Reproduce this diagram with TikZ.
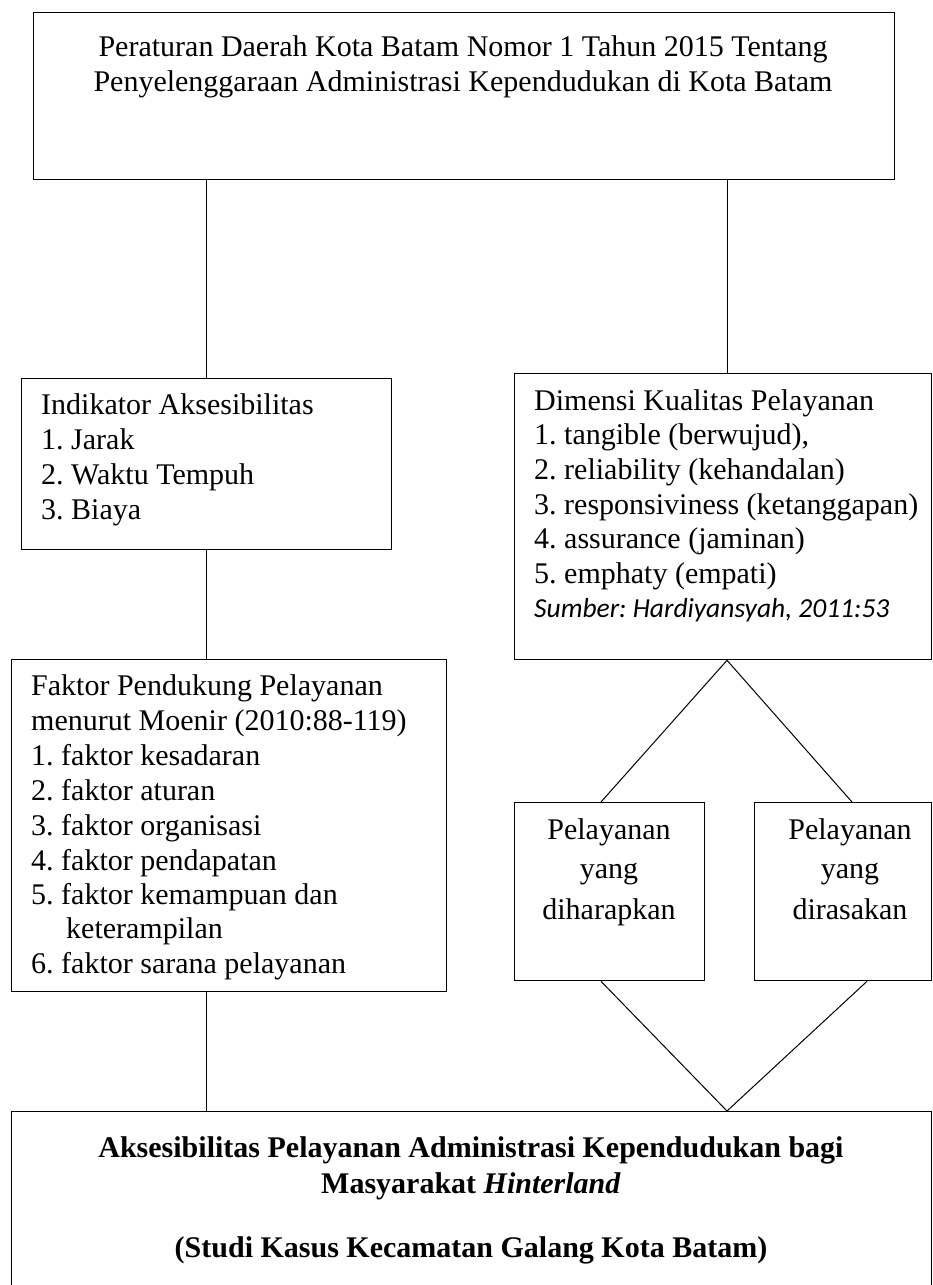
\documentclass[tikz,border=0pt]{standalone}
\usepackage{fontspec}
\setmainfont{Liberation Serif}
\newfontfamily\calibri{Carlito}
\frenchspacing
\begin{document}
\frenchspacing
\begin{tikzpicture}[x=1pt,y=-1pt,
  box/.style={draw, line width=1.3pt, inner sep=0pt, anchor=north west},
  ln/.style={line width=1pt},
  txt/.style={inner sep=0pt, anchor=base west, font=\fontsize{30}{35}\selectfont},
  ctxt/.style={inner sep=0pt, anchor=base, font=\fontsize{30}{35}\selectfont}]
\useasboundingbox (0,0) rectangle (933,1285);
\clip (0,0) rectangle (933,1285);
% boxes
\node[box, minimum width=861pt, minimum height=167pt] (top) at (33,12) {};
\node[box, minimum width=370pt, minimum height=171pt] (ind) at (21,378) {};
\node[box, minimum width=417pt, minimum height=286pt] (dim) at (514,373) {};
\node[box, minimum width=435pt, minimum height=332pt] (fak) at (11,659) {};
\node[box, minimum width=190pt, minimum height=178pt] (p1) at (514,802) {};
\node[box, minimum width=177pt, minimum height=178pt] (p2) at (754,802) {};
\node[box, minimum width=920pt, minimum height=210pt] (bot) at (11,1111) {};
% helper coordinates
\coordinate (rx) at (727,0);
\coordinate (a1) at (601,0);
\coordinate (a2) at (852,0);
\coordinate (b2) at (867,0);
% connectors
\draw[ln] (top.south -| ind.north) -- (ind.north);
\draw[ln] (top.south -| rx) -- (dim.north -| rx);
\draw[ln] (ind.south) -- (fak.north -| ind.south);
\draw[ln] (fak.south -| ind.south) -- (bot.north -| ind.south);
\draw[ln] (p1.north -| a1) -- (dim.south -| rx) -- (p2.north -| a2);
\draw[ln] (p1.south -| a1) -- (bot.north -| rx) -- (p2.south -| b2);
% top text
\node[ctxt] (t1) at (463,56) {Peraturan Daerah Kota Batam Nomor 1 Tahun 2015 Tentang};
\node[ctxt] (t2) at (463,91) {Penyelenggaraan Administrasi Kependudukan di Kota Batam};
% indikator
\node[txt] (i1) at (41,414) {Indikator Aksesibilitas};
\node[txt] (i2) at (41,449) {1. Jarak};
\node[txt] (i3) at (41,484) {2. Waktu Tempuh};
\node[txt] (i4) at (41,519) {3. Biaya};
% dimensi
\node[txt] (d1) at (534,410) {Dimensi Kualitas Pelayanan};
\node[txt] (d2) at (534,444.7) {1. tangible (berwujud),};
\node[txt] (d3) at (534,479.4) {2. reliability (kehandalan)};
\node[txt] (d4) at (534,514.1) {3. responsiviness (ketanggapan)};
\node[txt] (d5) at (534,548.8) {4. assurance (jaminan)};
\node[txt] (d6) at (534,583.5) {5. emphaty (empati)};
\node[txt, font=\calibri\itshape\fontsize{27.5}{33}\selectfont] (d7) at (534,617) {Sumber: Hardiyansyah, 2011:53};
% faktor
\node[txt] (f1) at (31,695) {Faktor Pendukung Pelayanan};
\node[txt] (f2) at (31,730) {menurut Moenir (2010:88-119)};
\node[txt] (f3) at (31,765) {1. faktor kesadaran};
\node[txt] (f4) at (31,800) {2. faktor aturan};
\node[txt] (f5) at (31,835) {3. faktor organisasi};
\node[txt] (f6) at (31,870) {4. faktor pendapatan};
\node[txt] (f7) at (31,904) {5. faktor kemampuan dan};
\node[txt] (f8) at (66,938) {keterampilan};
\node[txt] (f9) at (31,973) {6. faktor sarana pelayanan};
% pelayanan boxes
\node[ctxt] (q1) at (609,839) {Pelayanan};
\node[ctxt] (q2) at (609,878) {yang};
\node[ctxt] (q3) at (609,919) {diharapkan};
\node[ctxt] (r1) at (850,839) {Pelayanan};
\node[ctxt] (r2) at (850,878) {yang};
\node[ctxt] (r3) at (850,919) {dirasakan};
% bottom
\node[ctxt, font=\bfseries\fontsize{30}{35}\selectfont] (b1) at (471,1157) {Aksesibilitas Pelayanan Administrasi Kependudukan bagi};
\node[ctxt, font=\bfseries\fontsize{30}{35}\selectfont] (b2t) at (471,1193) {Masyarakat \textit{Hinterland}};
\node[ctxt, font=\bfseries\fontsize{30}{35}\selectfont] (b3) at (471,1257) {(Studi Kasus Kecamatan Galang Kota Batam)};
\end{tikzpicture}
\end{document}
